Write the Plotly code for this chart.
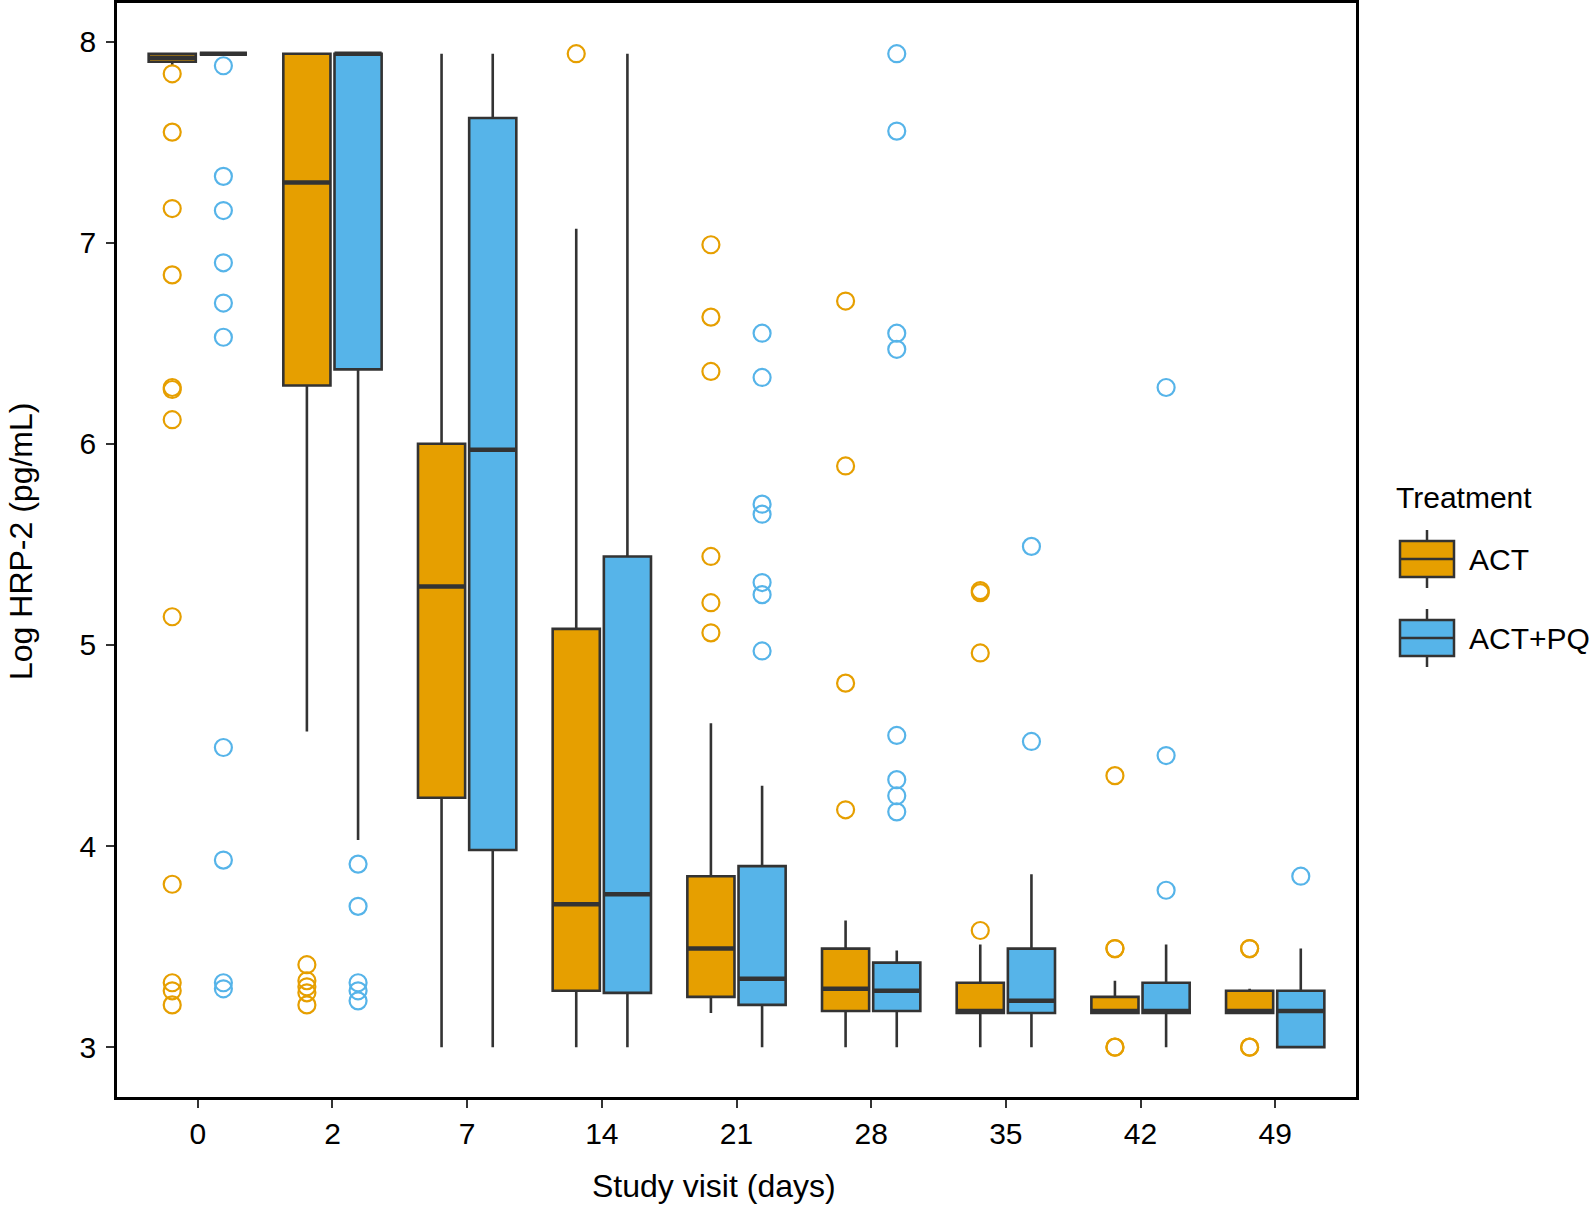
import plotly.graph_objects as go

# ---------------- data ----------------
visits = ["0", "2", "7", "14", "21", "28", "35", "42", "49"]
groups = ["ACT", "ACT+PQ"]
colors = {"ACT": "#E69F00", "ACT+PQ": "#56B4E9"}

act_lower = [7.88, 4.57, 3.00, 3.00, 3.17, 3.00, 3.00, 3.17, 3.17]
act_q1 = [7.90, 6.29, 4.24, 3.28, 3.25, 3.18, 3.17, 3.17, 3.17]
act_median = [7.92, 7.30, 5.29, 3.71, 3.49, 3.29, 3.18, 3.18, 3.18]
act_q3 = [7.94, 7.94, 6.00, 5.08, 3.85, 3.49, 3.32, 3.25, 3.28]
act_upper = [7.94, 7.94, 7.94, 7.07, 4.61, 3.63, 3.51, 3.33, 3.29]

pq_lower = [7.94, 4.03, 3.00, 3.00, 3.00, 3.00, 3.00, 3.00, 3.00]
pq_q1 = [7.94, 6.37, 3.98, 3.27, 3.21, 3.18, 3.17, 3.17, 3.00]
pq_median = [7.94, 7.94, 5.97, 3.76, 3.34, 3.28, 3.23, 3.18, 3.18]
pq_q3 = [7.94, 7.94, 7.62, 5.44, 3.90, 3.42, 3.49, 3.32, 3.28]
pq_upper = [7.94, 7.94, 7.94, 7.94, 4.30, 3.48, 3.86, 3.51, 3.49]

act_outliers = {
    "0": [7.84, 7.55, 7.17, 6.84, 6.28, 6.27, 6.12, 5.14, 3.81, 3.32, 3.28, 3.21],
    "2": [3.41, 3.33, 3.30, 3.27, 3.21],
    "7": [],
    "14": [7.94],
    "21": [6.99, 6.63, 6.36, 5.44, 5.21, 5.06],
    "28": [6.71, 5.89, 4.81, 4.18],
    "35": [5.27, 5.26, 4.96, 3.58],
    "42": [4.35, 3.49, 3.49, 3.00, 3.00],
    "49": [3.49, 3.49, 3.00, 3.00],
}
pq_outliers = {
    "0": [7.88, 7.33, 7.16, 6.90, 6.70, 6.53, 4.49, 3.93, 3.32, 3.29],
    "2": [3.91, 3.70, 3.32, 3.28, 3.23],
    "7": [],
    "14": [],
    "21": [6.55, 6.33, 5.70, 5.65, 5.31, 5.25, 4.97],
    "28": [7.94, 7.555, 6.55, 6.47, 4.55, 4.33, 4.25, 4.17],
    "35": [5.49, 4.52],
    "42": [6.28, 4.45, 3.78],
    "49": [3.85],
}

# ---------------- layout constants ----------------
W, H = 1594, 1207
L, R, T, B = 117, 1356, 3, 1097
DODGE = 0.19
BOXW = 0.35
EDGE = "#333333"
FONT = "Liberation Sans, Arial, Helvetica, sans-serif"

fig = go.Figure()

stats = {
    "ACT": (act_lower, act_q1, act_median, act_q3, act_upper, act_outliers, -DODGE),
    "ACT+PQ": (pq_lower, pq_q1, pq_median, pq_q3, pq_upper, pq_outliers, DODGE),
}

for g in groups:
    lo, q1, med, q3, hi, outs, off = stats[g]
    xs = [i + off for i in range(len(visits))]
    fig.add_trace(go.Box(
        x=xs, q1=q1, median=med, q3=q3, lowerfence=lo, upperfence=hi,
        width=BOXW, whiskerwidth=0, fillcolor=colors[g],
        line=dict(color=EDGE, width=2.6), name=g, showlegend=False,
        boxpoints=False, hoverinfo="skip",
    ))
    # thicker median line (ggplot fatten)
    mx, my = [], []
    for x, m in zip(xs, med):
        mx += [x - BOXW / 2, x + BOXW / 2, None]
        my += [m, m, None]
    fig.add_trace(go.Scatter(x=mx, y=my, mode="lines",
                             line=dict(color=EDGE, width=4.5),
                             showlegend=False, hoverinfo="skip"))
    ox, oy = [], []
    for i, v in enumerate(visits):
        for val in outs[v]:
            ox.append(i + off)
            oy.append(val)
    fig.add_trace(go.Scatter(x=ox, y=oy, mode="markers",
                             marker=dict(symbol="circle-open", size=17,
                                         color=colors[g], line=dict(width=2.2)),
                             showlegend=False, hoverinfo="skip"))

# ---------------- custom legend (ggplot-like keys) ----------------
def px(x):
    return (x - L) / (R - L)


def py(y):
    return (B - y) / (B - T)


shapes = []
annotations = []
key_x0, key_x1 = 1400, 1454
for g, ytop in zip(groups, [541, 620]):
    ybot = ytop + 36
    ymid = (ytop + ybot) / 2
    xc = (key_x0 + key_x1) / 2
    shapes.append(dict(type="line", xref="paper", yref="paper",
                       x0=px(xc), x1=px(xc), y0=py(ytop - 11), y1=py(ybot + 11),
                       line=dict(color=EDGE, width=2.5)))
    shapes.append(dict(type="rect", xref="paper", yref="paper",
                       x0=px(key_x0), x1=px(key_x1), y0=py(ytop), y1=py(ybot),
                       fillcolor=colors[g], line=dict(color=EDGE, width=2.5)))
    shapes.append(dict(type="line", xref="paper", yref="paper",
                       x0=px(key_x0), x1=px(key_x1), y0=py(ymid), y1=py(ymid),
                       line=dict(color=EDGE, width=2.5)))
    annotations.append(dict(text=g, xref="paper", yref="paper",
                            x=px(1467), y=py(ymid), xanchor="left", yanchor="middle",
                            showarrow=False, font=dict(size=30, color="black", family=FONT)))
annotations.append(dict(text="Treatment", xref="paper", yref="paper",
                        x=px(1394), y=py(497), xanchor="left", yanchor="middle",
                        showarrow=False, font=dict(size=30, color="black", family=FONT)))
# axis titles (placed like the ggplot original)
annotations.append(dict(text="Study visit (days)", xref="paper", yref="paper",
                        x=px(714), y=py(1186), xanchor="center", yanchor="middle",
                        showarrow=False, font=dict(size=32, color="black", family=FONT)))
annotations.append(dict(text="Log HRP-2 (pg/mL)", xref="paper", yref="paper",
                        x=px(21), y=py(542), xanchor="center", yanchor="middle",
                        textangle=-90,
                        showarrow=False, font=dict(size=32, color="black", family=FONT)))

fig.update_layout(
    width=W, height=H,
    margin=dict(l=L, r=W - R, t=T, b=H - B, autoexpand=False),
    paper_bgcolor="white", plot_bgcolor="white",
    boxmode="overlay",
    font=dict(family=FONT, color="black"),
    shapes=shapes, annotations=annotations,
    showlegend=False,
)
fig.update_xaxes(
    range=[-0.6, 8.6], tickmode="array", tickvals=list(range(len(visits))), ticktext=visits,
    showgrid=False, zeroline=False, showline=True, mirror=True, linecolor="black", linewidth=2.5,
    ticks="outside", ticklen=8, tickwidth=2, tickcolor=EDGE,
    tickfont=dict(size=30, color="black"),
)
fig.update_yaxes(
    range=[2.752, 8.192], tickmode="array", tickvals=[3, 4, 5, 6, 7, 8],
    showgrid=False, zeroline=False, showline=True, mirror=True, linecolor="black", linewidth=2.5,
    ticks="outside", ticklen=8, tickwidth=2, tickcolor=EDGE, ticklabelstandoff=4,
    tickfont=dict(size=30, color="black"),
)

fig.write_html("out.html", config={"displayModeBar": False},
               post_script="document.body.style.margin='0';")
